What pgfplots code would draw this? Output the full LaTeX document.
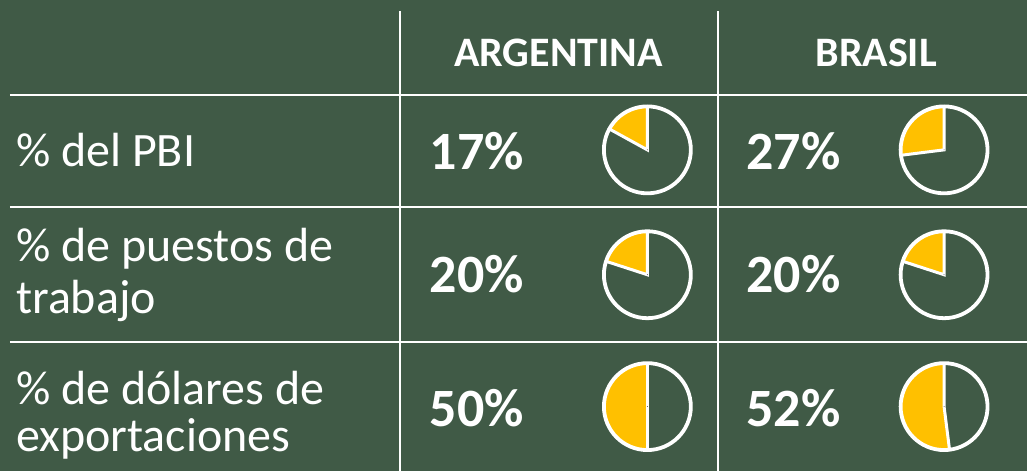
\documentclass[border=0pt]{standalone}
\usepackage{fontspec}
\setmainfont{Carlito}
\usepackage{pgfplots}
\usepackage{pgfplotstable}
\pgfplotsset{compat=1.18}
\definecolor{bg}{HTML}{405A46}
\definecolor{pieyellow}{HTML}{FFC000}
\pgfplotstableread{
x y p
648 150 17
945 150 27
648 275 20
945 275 20
648 407 50
945 407 52
}\pies
\begin{document}
\begin{tikzpicture}
\begin{axis}[width=1028pt, height=471pt, scale only axis,
  xmin=0, xmax=1028, ymin=0, ymax=471, y dir=reverse,
  hide axis, clip=false]
\fill[bg] (axis cs:0,0) rectangle (axis cs:1028,471);
% grid lines
\draw[white, line width=2pt] (axis cs:10,95) -- (axis cs:1028,95);
\draw[white, line width=2pt] (axis cs:10,207) -- (axis cs:1028,207);
\draw[white, line width=2pt] (axis cs:10,342) -- (axis cs:1028,342);
\draw[white, line width=2pt] (axis cs:400,11) -- (axis cs:400,471);
\draw[white, line width=2pt] (axis cs:719,11) -- (axis cs:719,471);
% headers
\node[white, anchor=base, inner sep=0pt, font=\fontsize{42}{46}\selectfont\bfseries] at (axis cs:559,67) {ARGENTINA};
\node[white, anchor=base, inner sep=0pt, font=\fontsize{42}{46}\selectfont\bfseries] at (axis cs:877,67) {BRASIL};
% row labels
\node[white, anchor=base west, inner sep=0pt, font=\fontsize{48}{52}\selectfont] at (axis cs:16,167) {\% del PBI};
\node[white, anchor=base west, inner sep=0pt, font=\fontsize{48}{52}\selectfont] at (axis cs:16,262) {\% de puestos de};
\node[white, anchor=base west, inner sep=0pt, font=\fontsize{48}{52}\selectfont] at (axis cs:16,314) {trabajo};
\node[white, anchor=base west, inner sep=0pt, font=\fontsize{48}{52}\selectfont] at (axis cs:16,405) {\% de dólares de};
\node[white, anchor=base west, inner sep=0pt, font=\fontsize{48}{52}\selectfont] at (axis cs:16,452) {exportaciones};
% percentages
\node[white, anchor=base west, inner sep=0pt, font=\fontsize{54}{58}\selectfont\bfseries] at (axis cs:430,170) {17\%};
\node[white, anchor=base west, inner sep=0pt, font=\fontsize{54}{58}\selectfont\bfseries] at (axis cs:747,170) {27\%};
\node[white, anchor=base west, inner sep=0pt, font=\fontsize{54}{58}\selectfont\bfseries] at (axis cs:430,293) {20\%};
\node[white, anchor=base west, inner sep=0pt, font=\fontsize{54}{58}\selectfont\bfseries] at (axis cs:747,293) {20\%};
\node[white, anchor=base west, inner sep=0pt, font=\fontsize{54}{58}\selectfont\bfseries] at (axis cs:430,427) {50\%};
\node[white, anchor=base west, inner sep=0pt, font=\fontsize{54}{58}\selectfont\bfseries] at (axis cs:747,427) {52\%};
% pies
\addplot[scatter, only marks, mark=*, mark size=0.1pt,
  mark options={draw=none, fill=none},
  visualization depends on={\thisrow{p}\as\pval},
  scatter/@pre marker code/.code={%
    \fill[pieyellow] (0,0) -- (0,43.5pt) arc[start angle=90, delta angle=3.6*\pval, radius=43.5pt] -- cycle;
    \draw[white, line width=3pt] (90:43.5pt) -- (0,0) -- (90+3.6*\pval:43.5pt);
    \draw[white, line width=3.8pt] (0,0) circle[radius=43.5pt];
  },
  scatter/@post marker code/.code={}
] table[x=x, y=y] {\pies};
\end{axis}
\end{tikzpicture}
\end{document}
